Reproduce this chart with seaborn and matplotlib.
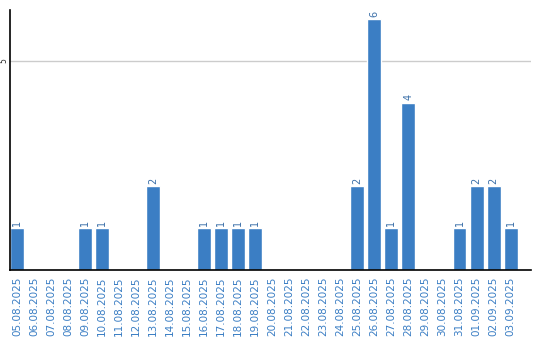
import matplotlib
matplotlib.use("Agg")
import matplotlib.pyplot as plt
import seaborn as sns
import pandas as pd

dates = ["05.08.2025", "06.08.2025", "07.08.2025", "08.08.2025", "09.08.2025",
         "10.08.2025", "11.08.2025", "12.08.2025", "13.08.2025", "14.08.2025",
         "15.08.2025", "16.08.2025", "17.08.2025", "18.08.2025", "19.08.2025",
         "20.08.2025", "21.08.2025", "22.08.2025", "23.08.2025", "24.08.2025",
         "25.08.2025", "26.08.2025", "27.08.2025", "28.08.2025", "29.08.2025",
         "30.08.2025", "31.08.2025", "01.09.2025", "02.09.2025", "03.09.2025"]
counts = [1, 0, 0, 0, 1, 1, 0, 0, 2, 0, 0, 1, 1, 1, 1,
          0, 0, 0, 0, 0, 2, 6, 1, 4, 0, 0, 1, 2, 2, 1]

df = pd.DataFrame({"date": dates, "count": counts})

sns.set_theme(style="white")
plt.rcParams['font.family'] = ['DejaVu Sans']

BLUE = "#3b7ec4"
fig = plt.figure(figsize=(5.4, 3.4), dpi=100)
ax = fig.add_axes([10/540, 70/340, 521/540, 260/340])

sns.barplot(data=df, x="date", y="count", color=BLUE, saturation=1,
            width=0.82, ax=ax)

for i, v in enumerate(counts):
    if v > 0:
        ax.text(i, v + 0.06, str(v), rotation=90, ha="center", va="bottom",
                fontsize=7, color="#3b6fa8")

ax.set_xlim(-0.41, 30.2)
ax.set_ylim(0, 6.22)
ax.set_yticks([5])
ax.set_yticklabels(["5"], rotation=90, va="center", fontsize=5.5)
ax.yaxis.grid(True, color="#cccccc", linewidth=1)
ax.set_axisbelow(True)
ax.tick_params(axis="y", length=0, pad=1.5)
ax.tick_params(axis="x", length=0, pad=5)
ax.set_xticks(range(len(dates)))
ax.set_xticklabels(dates, rotation=90, fontsize=7.5, color="#3b7ec4")
ax.set_xlabel("")
ax.set_ylabel("")
for s in ["top", "right"]:
    ax.spines[s].set_visible(False)
ax.spines["left"].set_color("black")
ax.spines["bottom"].set_color("black")
ax.spines["left"].set_linewidth(1.2)
ax.spines["bottom"].set_linewidth(1.2)

fig.savefig("out.png", dpi=100)
